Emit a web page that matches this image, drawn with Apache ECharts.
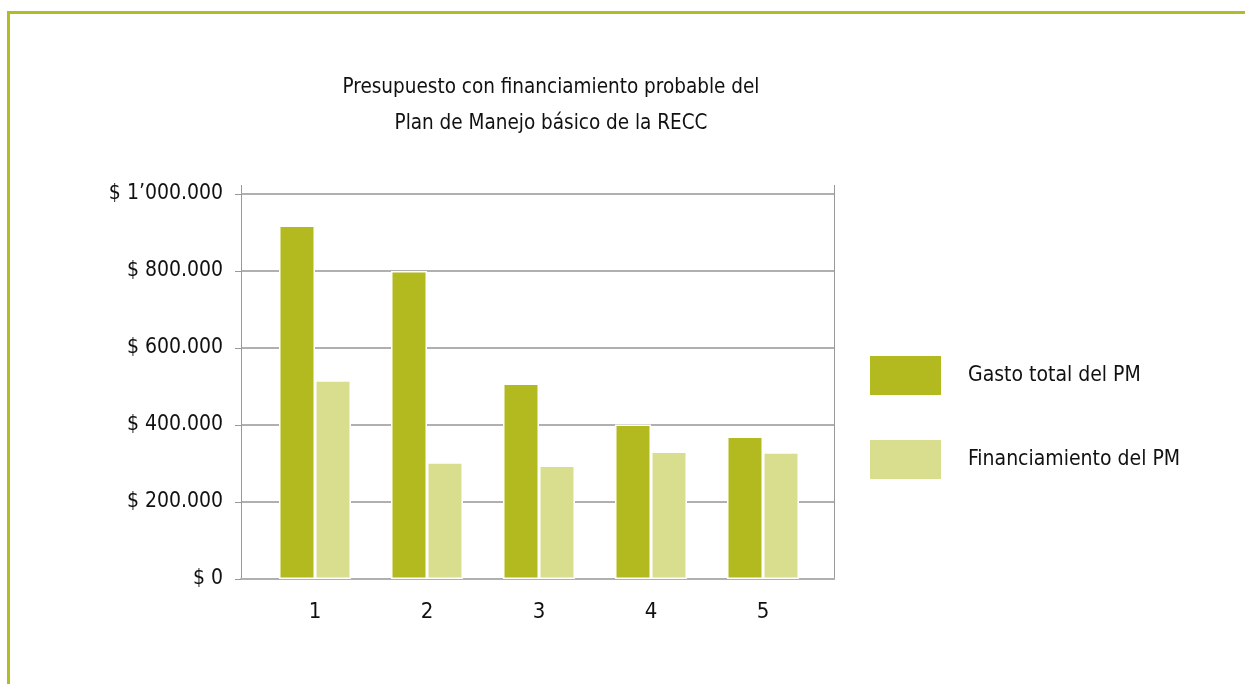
<!DOCTYPE html>
<html>
<head>
<meta charset="utf-8">
<script src="https://cdn.jsdelivr.net/npm/echarts@6/dist/echarts.min.js"></script>
<style>
  html, body { margin: 0; padding: 0; background: #fff; }
  #chart { position: absolute; left: 0; top: 0; width: 1245px; height: 684px; }
  #frame {
    position: absolute; left: 7px; top: 11px; right: 0; bottom: 0;
    border-top: 3px solid #b3bc25; border-left: 3px solid #b3bc25;
    pointer-events: none;
  }
</style>
</head>
<body>
<div id="chart"></div>
<div id="frame"></div>
<script>
  const categories = ['1', '2', '3', '4', '5']
  const gastoTotal = [918000, 800000, 508000, 401000, 370000]
  const financiamiento = [516000, 303000, 295000, 331000, 329000]
  const yTickLabels = ['$ 0', '$ 200.000', '$ 400.000', '$ 600.000', '$ 800.000', '$ 1\u2019000.000']
  const seriesNames = ['Gasto total del PM', 'Financiamiento del PM']

  const font = "'Liberation Sans Narrow', 'DejaVu Sans Condensed', sans-serif"
  const dark = '#b2ba1f'
  const light = '#d9de8f'
  const lineColor = '#b0b0b0'

  const chartIns = echarts.init(document.getElementById('chart'))
  chartIns.setOption({
    animation: false,
    textStyle: { fontFamily: font, color: '#111' },
    title: {
      text: 'Presupuesto con financiamiento probable del\nPlan de Manejo básico de la RECC',
      left: 546,
      top: 65,
      textAlign: 'center',
      textStyle: { fontFamily: font, fontSize: 20.5, fontWeight: 'normal', color: '#111', lineHeight: 36 }
    },
    legend: {
      orient: 'vertical',
      left: 865,
      top: 351,
      icon: 'rect',
      itemWidth: 71,
      itemHeight: 39,
      itemGap: 45,
      itemStyle: { borderWidth: 0 },
      textStyle: { fontFamily: font, fontSize: 21, color: '#111', padding: [0, 0, 0, 22] },
      data: seriesNames
    },
    grid: [
      // axis / split lines
      { left: 241, right: 411, top: 194, bottom: 105 },
      // bars
      { left: 259, right: 426, top: 194, bottom: 105 }
    ],
    xAxis: [
      {
        gridIndex: 0,
        type: 'category',
        data: categories,
        axisLine: { show: true, lineStyle: { color: lineColor, width: 2 } },
        axisTick: { show: false },
        axisLabel: { show: false }
      },
      {
        gridIndex: 1,
        type: 'category',
        data: categories,
        axisLine: { show: false },
        axisTick: { show: false },
        axisLabel: { fontFamily: font, fontSize: 22, color: '#111', margin: 22 }
      }
    ],
    yAxis: [
      {
        gridIndex: 0,
        type: 'value',
        min: 0,
        max: 1000000,
        interval: 200000,
        axisLine: { show: true, lineStyle: { color: '#999', width: 1 } },
        axisTick: { show: true, length: 6, lineStyle: { color: '#999' } },
        axisLabel: {
          fontFamily: font,
          fontSize: 21,
          color: '#111',
          margin: 18,
          formatter: v => yTickLabels[Math.round(v / 200000)]
        },
        splitLine: { lineStyle: { color: lineColor, width: 2 } }
      },
      {
        gridIndex: 0,
        type: 'value',
        position: 'right',
        min: 0,
        max: 1000000,
        interval: 200000,
        axisLine: { show: true, lineStyle: { color: '#999', width: 1 } },
        axisTick: { show: false },
        axisLabel: { show: false },
        splitLine: { show: false }
      },
      {
        gridIndex: 1,
        type: 'value',
        min: 0,
        max: 1000000,
        interval: 200000,
        show: false
      }
    ],
    graphic: [
      { type: 'line', shape: { x1: 241.5, y1: 185, x2: 241.5, y2: 194 }, style: { stroke: '#999', lineWidth: 1 } },
      { type: 'line', shape: { x1: 834.5, y1: 185, x2: 834.5, y2: 194 }, style: { stroke: '#999', lineWidth: 1 } }
    ],
    series: [
      {
        name: seriesNames[0],
        type: 'bar',
        xAxisIndex: 1,
        yAxisIndex: 2,
        data: gastoTotal,
        barWidth: 36,
        barGap: '0%',
        itemStyle: { color: dark, borderColor: '#fff', borderWidth: 1.5 }
      },
      {
        name: seriesNames[1],
        type: 'bar',
        xAxisIndex: 1,
        yAxisIndex: 2,
        data: financiamiento,
        barWidth: 36,
        barGap: '0%',
        itemStyle: { color: light, borderColor: '#fff', borderWidth: 1.5 }
      }
    ]
  })
</script>
</body>
</html>
